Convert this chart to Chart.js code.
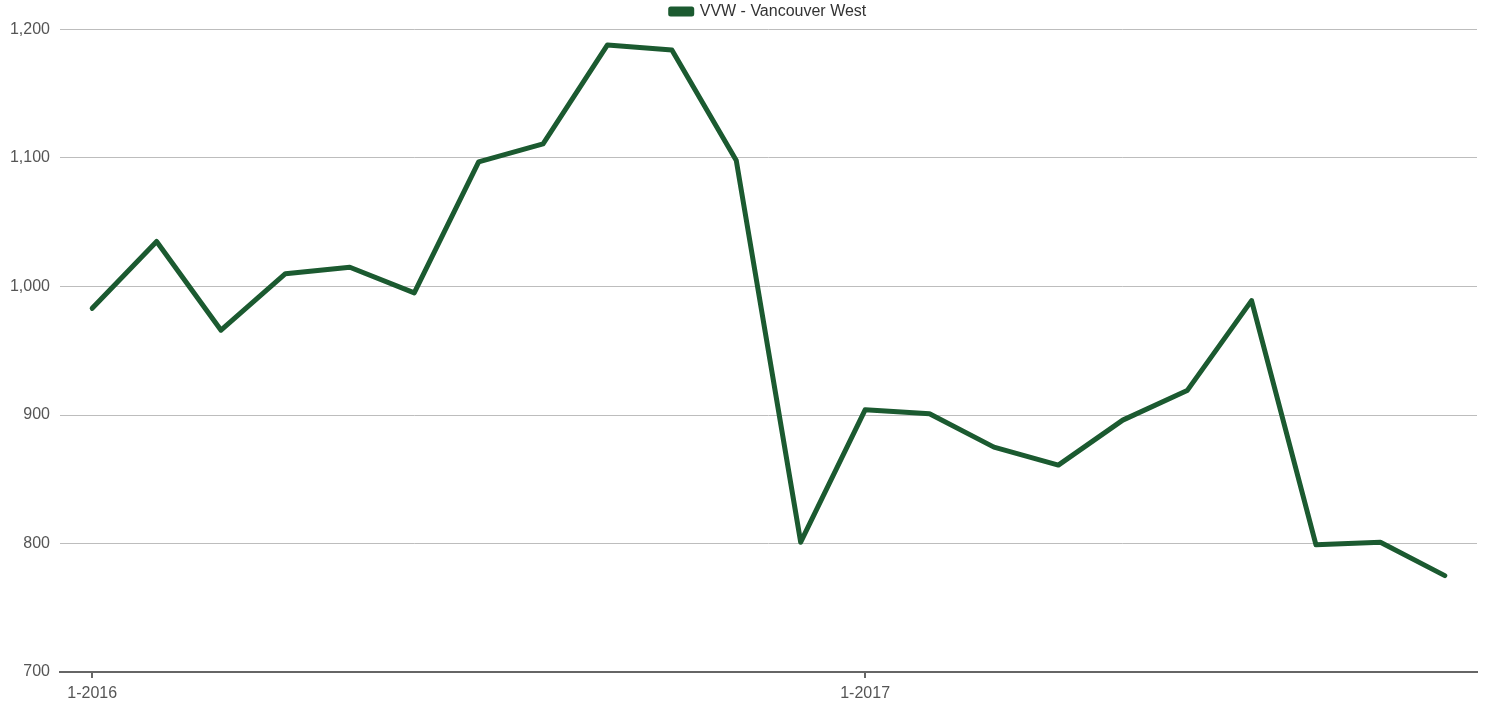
<!DOCTYPE html>
<html>
<head>
<meta charset="utf-8">
<script src="https://cdn.jsdelivr.net/npm/chart.js@4"></script>
<style>
  html, body { margin: 0; padding: 0; background: #fff; }
  #wrap { width: 1500px; height: 704px; }
</style>
</head>
<body>
<div id="wrap"><canvas id="chartVVW"></canvas></div>
<script>
const months = [
  "1-2016", "2-2016", "3-2016", "4-2016", "5-2016", "6-2016",
  "7-2016", "8-2016", "9-2016", "10-2016", "11-2016", "12-2016",
  "1-2017", "2-2017", "3-2017", "4-2017", "5-2017", "6-2017",
  "7-2017", "8-2017", "9-2017", "10-2017",
];
const shownLabels = ["1-2016", "1-2017"];
const vvwValues = [
  983, 1035, 966, 1010, 1015, 995, 1097, 1111, 1188, 1184, 1098, 801,
  904, 901, 875, 861, 896, 919, 989, 799, 801, 775,
];
const yTicks = { min: 700, max: 1200, step: 100 };

const green = "#1b5a30";

// centre the legend over the plot area instead of the whole canvas
const legendOverPlot = {
  id: "legendOverPlot",
  afterLayout(chart) {
    if (!chart.legend) return;
    chart.legend.left = chart.chartArea.left;
    chart.legend.right = chart.chartArea.right;
  },
};

new Chart(document.getElementById("chartVVW"), {
  type: "line",
  data: {
    labels: months,
    datasets: [
      {
        label: "VVW - Vancouver West",
        data: vvwValues,
        borderColor: green,
        backgroundColor: green,
        borderWidth: 5,
        borderCapStyle: "round",
        borderJoinStyle: "round",
        pointRadius: 0,
        tension: 0,
      },
    ],
  },
  options: {
    responsive: true,
    maintainAspectRatio: false,
    animation: false,
    layout: { padding: { right: 23, top: 0, left: 0, bottom: 0 } },
    plugins: {
      legend: {
        position: "top",
        labels: {
          boxWidth: 21,
          boxHeight: 5,
          padding: 3.5,
          color: "#333",
          font: { family: "Liberation Sans", size: 16 },
        },
      },
      tooltip: { enabled: false },
    },
    scales: {
      x: {
        offset: true,
        grid: {
          drawOnChartArea: false,
          tickLength: 6,
          lineWidth: 2,
          color: (ctx) =>
            ctx.tick && shownLabels.includes(months[ctx.index]) ? "#666" : "rgba(0,0,0,0)",
        },
        border: { display: true, color: "#666", width: 2 },
        ticks: {
          autoSkip: false,
          maxRotation: 0,
          padding: 6,
          color: "#555",
          font: { family: "Liberation Sans", size: 16 },
          callback: (v, i) => (shownLabels.includes(months[i]) ? months[i] : ""),
        },
        afterFit: (scale) => { scale.height = 32; },
      },
      y: {
        min: yTicks.min,
        max: yTicks.max,
        grid: { color: "#bdbdbd", lineWidth: 1, drawTicks: false },
        border: { display: false },
        ticks: {
          stepSize: yTicks.step,
          padding: 10,
          color: "#555",
          font: { family: "Liberation Sans", size: 16 },
          callback: (v) => v.toLocaleString("en-US"),
        },
        afterFit: (scale) => { scale.width = 60; },
      },
    },
  },
  plugins: [legendOverPlot],
});
</script>
</body>
</html>
